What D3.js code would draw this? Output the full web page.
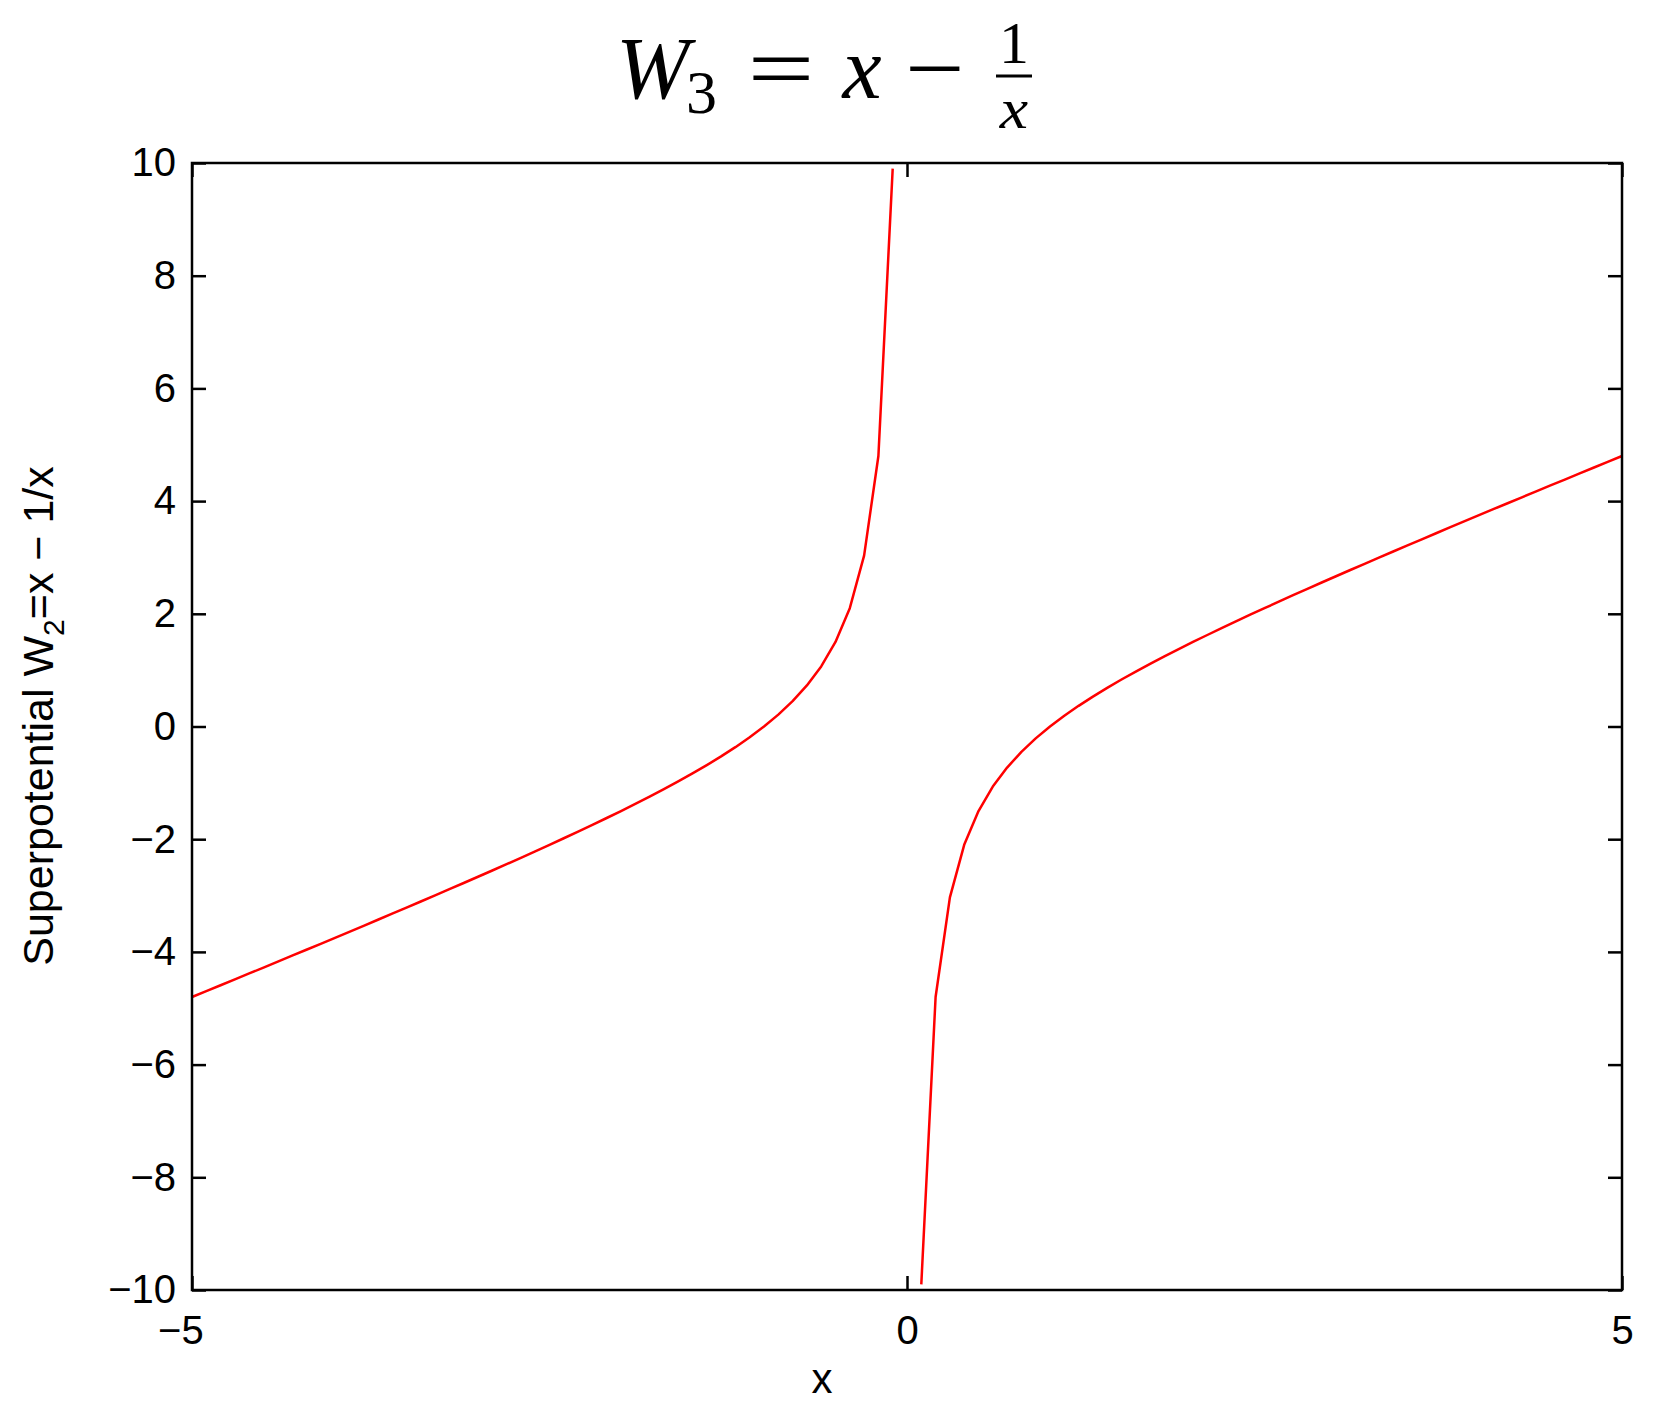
<!DOCTYPE html>
<html>
<head>
<meta charset="utf-8">
<script src="https://cdn.jsdelivr.net/npm/d3@7"></script>
<style>
    body { margin: 0; background: #fff; }
    svg { display: block; }
</style>
</head>
<body>
<div id="chart"></div>
<script>
// Sampled superpotential, step 0.1, branch x < 0 and branch x > 0
const xLeft = [-5.0, -4.9, -4.8, -4.7, -4.6, -4.5, -4.4, -4.3, -4.2, -4.1,
    -4.0, -3.9, -3.8, -3.7, -3.6, -3.5, -3.4, -3.3, -3.2, -3.1,
    -3.0, -2.9, -2.8, -2.7, -2.6, -2.5, -2.4, -2.3, -2.2, -2.1,
    -2.0, -1.9, -1.8, -1.7, -1.6, -1.5, -1.4, -1.3, -1.2, -1.1,
    -1.0, -0.9, -0.8, -0.7, -0.6, -0.5, -0.4, -0.3, -0.2, -0.1];
const wLeft = [-4.8, -4.6959, -4.5917, -4.4872, -4.3826, -4.2778, -4.1727, -4.0674, -3.9619, -3.8561,
    -3.75, -3.6436, -3.5368, -3.4297, -3.3222, -3.2143, -3.1059, -2.997, -2.8875, -2.7774,
    -2.6667, -2.5552, -2.4429, -2.3296, -2.2154, -2.1, -1.9833, -1.8652, -1.7455, -1.6238,
    -1.5, -1.3737, -1.2444, -1.1118, -0.975, -0.8333, -0.6857, -0.5308, -0.3667, -0.1909,
    0, 0.2111, 0.45, 0.7286, 1.0667, 1.5, 2.1, 3.0333, 4.8, 9.9];

const xRight = [0.1, 0.2, 0.3, 0.4, 0.5, 0.6, 0.7, 0.8, 0.9, 1.0,
    1.1, 1.2, 1.3, 1.4, 1.5, 1.6, 1.7, 1.8, 1.9, 2.0,
    2.1, 2.2, 2.3, 2.4, 2.5, 2.6, 2.7, 2.8, 2.9, 3.0,
    3.1, 3.2, 3.3, 3.4, 3.5, 3.6, 3.7, 3.8, 3.9, 4.0,
    4.1, 4.2, 4.3, 4.4, 4.5, 4.6, 4.7, 4.8, 4.9, 5.0];
const wRight = [-9.9, -4.8, -3.0333, -2.1, -1.5, -1.0667, -0.7286, -0.45, -0.2111, 0,
    0.1909, 0.3667, 0.5308, 0.6857, 0.8333, 0.975, 1.1118, 1.2444, 1.3737, 1.5,
    1.6238, 1.7455, 1.8652, 1.9833, 2.1, 2.2154, 2.3296, 2.4429, 2.5552, 2.6667,
    2.7774, 2.8875, 2.997, 3.1059, 3.2143, 3.3222, 3.4297, 3.5368, 3.6436, 3.75,
    3.8561, 3.9619, 4.0674, 4.1727, 4.2778, 4.3826, 4.4872, 4.5917, 4.6959, 4.8];

const xTicks = [-5, 0, 5];
const yTicks = [-10, -8, -6, -4, -2, 0, 2, 4, 6, 8, 10];

const width = 1668;
const height = 1421;
const margin = { left: 192, right: 46, top: 163, bottom: 131 };
const tickLen = 14;
const sans = "'Liberation Sans', Arial, Helvetica, sans-serif";
const serif = "'Liberation Serif', 'Times New Roman', serif";

const svg = d3.select('#chart')
    .append('svg')
    .attr('width', width)
    .attr('height', height);

const x = d3.scaleLinear().domain([-5, 5]).range([margin.left, width - margin.right]);
const y = d3.scaleLinear().domain([-10, 10]).range([height - margin.bottom, margin.top]);

const fmt = d => d < 0 ? '\u2212' + Math.abs(d) : String(d);

// Curve, two branches
const line = d3.line().x(d => x(d[0])).y(d => y(d[1]));
[[xLeft, wLeft], [xRight, wRight]].forEach(([xs, ws]) => {
    svg.append('path')
        .datum(d3.zip(xs, ws))
        .attr('d', line)
        .attr('fill', 'none')
        .attr('stroke', '#ff0000')
        .attr('stroke-width', 2.5)
        .attr('stroke-linejoin', 'round');
});

// Axes (ticks inward on all four sides, labels on left and bottom)
const bottomAxis = d3.axisBottom(x).tickValues(xTicks).tickSizeInner(-tickLen).tickSizeOuter(0).tickFormat(fmt).tickPadding(26);
const topAxis = d3.axisTop(x).tickValues(xTicks).tickSizeInner(-tickLen).tickSizeOuter(0).tickFormat('');
const leftAxis = d3.axisLeft(y).tickValues(yTicks).tickSizeInner(-tickLen).tickSizeOuter(0).tickFormat(fmt).tickPadding(16);
const rightAxis = d3.axisRight(y).tickValues(yTicks).tickSizeInner(-tickLen).tickSizeOuter(0).tickFormat('');

const axes = [
    ['bottom', bottomAxis, `translate(0,${height - margin.bottom})`],
    ['top', topAxis, `translate(0,${margin.top})`],
    ['left', leftAxis, `translate(${margin.left},0)`],
    ['right', rightAxis, `translate(${width - margin.right},0)`]
];
axes.forEach(([side, axis, tr]) => {
    const g = svg.append('g').attr('transform', tr).call(axis);
    g.select('.domain').remove();
    g.selectAll('.tick line').attr('stroke', '#000').attr('stroke-width', 2.5);
    const labels = g.selectAll('.tick text')
        .attr('fill', '#000')
        .style('font-family', sans)
        .style('font-size', '40px');
    // MATLAB keeps the digit centred under the tick, the minus sign sticks out left
    if (side === 'bottom')
        labels.attr('dx', d => d < 0 ? '-0.29em' : 0);
});

// Frame
svg.append('rect')
    .attr('x', margin.left)
    .attr('y', margin.top)
    .attr('width', width - margin.left - margin.right)
    .attr('height', height - margin.top - margin.bottom)
    .attr('fill', 'none')
    .attr('stroke', '#000')
    .attr('stroke-width', 2.5);

// Axis labels
svg.append('text')
    .attr('x', 822)
    .attr('y', 1393)
    .attr('text-anchor', 'middle')
    .style('font-family', sans)
    .style('font-size', '42px')
    .text('x');

const ylab = svg.append('text')
    .attr('transform', 'translate(53,716) rotate(-90)')
    .attr('text-anchor', 'middle')
    .style('font-family', sans)
    .style('font-size', '43px');
ylab.append('tspan').text('Superpotential W');
ylab.append('tspan').attr('dy', 11).style('font-size', '30px').text('2');
ylab.append('tspan').attr('dy', -11).text('=x \u2212 1/x');

// Title: W_3 = x - 1/x, placed piece by piece like the LaTeX render
const title = svg.append('g').attr('fill', '#000').style('font-family', serif);
const piece = (tx, ty, size, txt, opts = {}) => {
    title.append('text')
        .attr('transform', `translate(${tx},${ty}) scale(${opts.sx || 1},1)`)
        .attr('text-anchor', opts.anchor || 'start')
        .style('font-size', size + 'px')
        .style('font-style', opts.italic ? 'italic' : 'normal')
        .text(txt);
};
piece(616, 98, 88, 'W', { italic: true });
piece(686, 113, 62, '3');
piece(781, 98, 88, '=', { anchor: 'middle', sx: 1.35 });
piece(862, 98, 88, 'x', { anchor: 'middle', italic: true });
piece(935, 98, 88, '\u2212', { anchor: 'middle', sx: 1.2 });
piece(1014, 63, 60, '1', { anchor: 'middle' });
piece(1014, 128, 58, 'x', { anchor: 'middle', italic: true, sx: 1.1 });
title.append('line')
    .attr('x1', 996).attr('x2', 1032)
    .attr('y1', 76).attr('y2', 76)
    .attr('stroke', '#000')
    .attr('stroke-width', 3);
</script>
</body>
</html>
